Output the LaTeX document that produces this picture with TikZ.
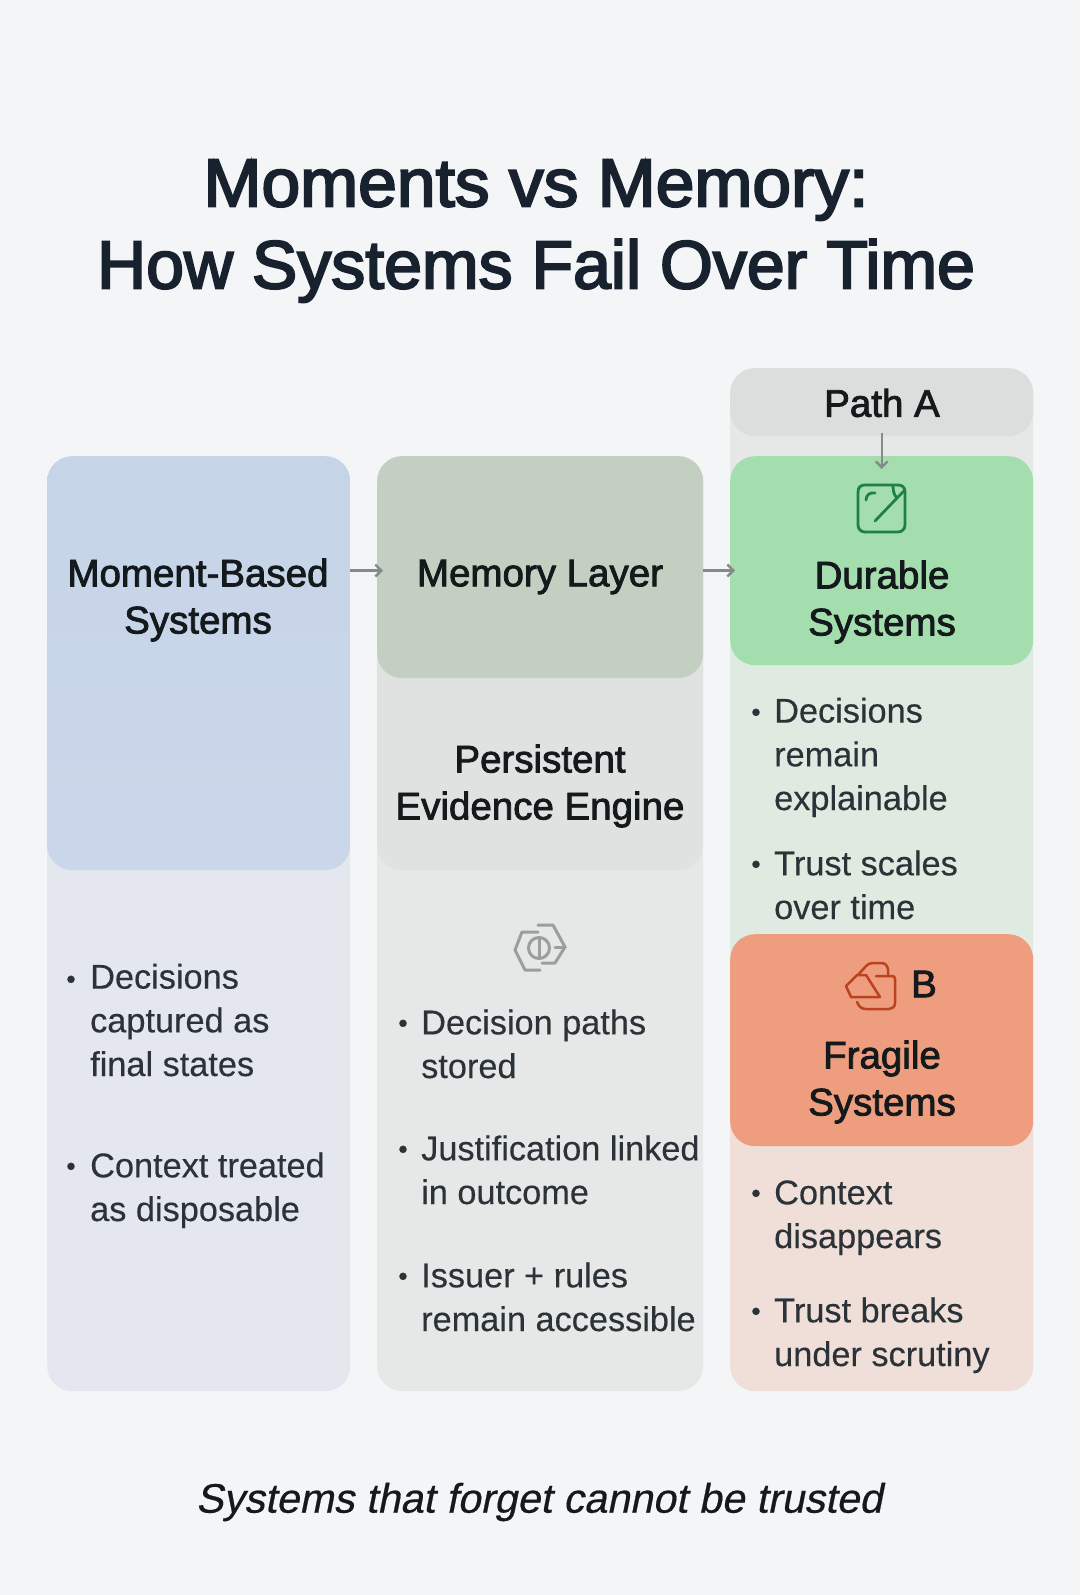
\documentclass[tikz,border=0pt]{standalone}
\usepackage{fontspec}
\setmainfont[FakeBold=0.3]{Liberation Sans}
\newfontfamily\medfont[FakeBold=2.2]{Liberation Sans}
\newfontfamily\titlefont[FakeBold=3]{Liberation Sans}
\newfontfamily\itfont[FakeSlant=0.2,FakeBold=0.5]{Liberation Sans}
\usetikzlibrary{arrows.meta,calc}
\definecolor{pagebg}{HTML}{F3F5F7}
\definecolor{titlec}{HTML}{18222E}
\definecolor{inkc}{HTML}{2B3338}
\definecolor{headc}{HTML}{14191C}
\definecolor{arrowc}{HTML}{85898A}
\definecolor{blueh}{HTML}{C6D4E8}
\definecolor{bluel}{HTML}{E4E7EE}
\definecolor{sageh}{HTML}{C3D0C1}
\definecolor{greym}{HTML}{DFE2E0}
\definecolor{greyl}{HTML}{E6E8E8}
\definecolor{pathback}{HTML}{E6E8E8}
\definecolor{pathc}{HTML}{DCDEDD}
\definecolor{greenh}{HTML}{A4DEAE}
\definecolor{greenl}{HTML}{DFEBE1}
\definecolor{redh}{HTML}{EE9D7F}
\definecolor{redl}{HTML}{F0DFD9}
\definecolor{greenic}{HTML}{1E7F47}
\definecolor{redic}{HTML}{B9431F}
\definecolor{hexic}{HTML}{9A9E9E}
\tikzset{
  panel/.style={rectangle,rounded corners=25pt,inner sep=0pt,anchor=north west},
  tint/.style={rectangle,inner sep=0pt,anchor=north west},
  titletext/.style={font=\fontsize{68}{82}\selectfont\titlefont,text=titlec,align=center,inner sep=0pt},
  headtext/.style={font=\fontsize{38.5}{47}\selectfont\medfont,text=headc,align=center,inner sep=0pt},
  bodytext/.style={font=\fontsize{34.3}{43.7}\selectfont,text=inkc,align=left,inner sep=0pt,anchor=base west},
  bullet/.style={font=\fontsize{27}{30}\selectfont,text=inkc,inner sep=0pt},
  flow/.style={draw=arrowc,line width=2.4pt,-{Straight Barb[length=6pt,width=12pt,line width=2.4pt]}},
  icongreen/.style={draw=greenic,line width=2.8pt,line cap=round,line join=round},
  iconred/.style={draw=redic,line width=2.5pt,line cap=round,line join=round},
  iconhex/.style={draw=hexic,line width=3pt,line cap=round,line join=round},
}
\begin{document}
\begin{tikzpicture}[x=1pt,y=-1pt]
\useasboundingbox (0,0) rectangle (1080,1595);
\fill[pagebg] (0,0) rectangle (1080,1595);

% column 1
\node[panel,fill=bluel,minimum width=303pt,minimum height=935pt] (col1) at (47,456) {};
\node[panel,top color=blueh,bottom color=blueh!92!white,minimum width=303pt,minimum height=414pt] (moment) at (47,456) {};

% column 2
\node[panel,fill=greyl,minimum width=326pt,minimum height=935pt] (col2) at (377,456) {};
\node[panel,fill=greym,minimum width=326pt,minimum height=414pt] (engine) at (377,456) {};
\node[panel,fill=sageh,minimum width=326pt,minimum height=222pt] (memory) at (377,456) {};

% column 3
\node[panel,fill=pathback,minimum width=303pt,minimum height=600pt] (col3) at (730,368) {};
\node[tint,fill=greenl,minimum width=303pt,minimum height=320pt] (greentint) at (730,640) {};
\node[panel,fill=redl,minimum width=303pt,minimum height=300pt] (redtint) at (730,1091) {};
\node[panel,fill=pathc,minimum width=303pt,minimum height=68pt] (patha) at (730,368) {};
\node[panel,fill=greenh,minimum width=303pt,minimum height=209pt] (durable) at (730,456) {};
\node[panel,fill=redh,minimum width=303pt,minimum height=212pt] (fragile) at (730,934) {};

% title and caption
\node[titletext] (title) at (536,231) {\scalebox{1.023}[1]{Moments vs Memory:}\\How Systems Fail Over Time};
\node[font=\fontsize{41.3}{48}\selectfont\itfont,text=headc,inner sep=0pt] (caption) at (539,1502) {Systems that forget cannot be trusted};

% headings
\node[headtext] (t1) at (198,600) {Moment-Based\\Systems};
\node[headtext] (t2) at (540,577) {Memory Layer};
\node[headtext] (t3) at (540,786) {Persistent\\Evidence Engine};
\node[headtext] (t4) at (882,602) {Durable\\Systems};
\node[headtext] (t5) at (882,1082) {Fragile\\Systems};
\node[headtext] (t6) at (882,403) {Path A};
\node[headtext] (t7) at (924,984) {B};

% column 1 text
\node[bullet] (b11) at (71,982) {•};
\node[bodytext] (x11) at (90,1076) {Decisions\\captured as\\final states};
\node[bullet] (b12) at (71,1169) {•};
\node[bodytext] (x12) at (90,1221) {Context treated\\as disposable};

% column 2 text
\node[bullet] (b21) at (403,1026) {•};
\node[bodytext] (x21) at (421,1078) {Decision paths\\stored};
\node[bullet] (b22) at (403,1152) {•};
\node[bodytext] (x22) at (421,1204) {Justification linked\\in outcome};
\node[bullet] (b23) at (403,1279) {•};
\node[bodytext] (x23) at (421,1331) {Issuer + rules\\remain accessible};

% column 3 text
\node[bullet] (b31) at (756,715) {•};
\node[bodytext] (x31) at (774,810) {Decisions\\remain\\explainable};
\node[bullet] (b32) at (756,867) {•};
\node[bodytext] (x32) at (774,919) {Trust scales\\over time};
\node[bullet] (b33) at (756,1196) {•};
\node[bodytext] (x33) at (774,1248) {Context\\disappears};
\node[bullet] (b34) at (756,1314) {•};
\node[bodytext] (x34) at (774,1366) {Trust breaks\\under scrutiny};

% connectors
\coordinate (row) at (0,570.5);
\draw[flow] (moment.east |- row) -- ([xshift=6pt]memory.west |- row);
\draw[flow] (memory.east |- row) -- ([xshift=5pt]durable.west |- row);
\draw[flow] ([yshift=3pt]patha.south) -- ([yshift=-13pt]durable.north);

% durable icon
\draw[icongreen] (858,492) .. controls (858,487) and (861,485) .. (865,485) -- (898,485)
  .. controls (902,485) and (905,487) .. (905,492) -- (905,525)
  .. controls (905,529) and (902,532) .. (898,532) -- (865,532)
  .. controls (861,532) and (858,529) .. (858,525) -- cycle;
\draw[icongreen] (875,521) -- (897,498) .. controls (894,495) and (893,491) .. (893,486);
\draw[icongreen] (897,498) -- (904,491);
\draw[icongreen] (866,500) .. controls (866,495) and (870,492) .. (875,493);

% fragile icon
\draw[iconred] (858,975) -- (866,966) .. controls (868,964) and (870,963) .. (873,963) -- (881,963)
  .. controls (885,963) and (887,965) .. (888,969) -- (888,975);
\draw[iconred] (876,976) -- (892,976) .. controls (894,976) and (895,977) .. (895,979) -- (895,1003)
  .. controls (895,1007) and (892,1009) .. (889,1009) -- (866,1009) .. controls (862,1009) and (859,1007) .. (857,1002);
\draw[iconred] (846,986) -- (857,975) -- (866,975) -- (880,997) -- (851,997) -- cycle;

% hexagon icon
\draw[iconhex] (538,932) -- (522,932) -- (515,950) -- (525,970) -- (540,970);
\draw[iconhex] (538,925) -- (553,925) -- (565,947) -- (555,963) -- (542,963);
\draw[iconhex] (555,947) -- (565,947);
\draw[iconhex] (539,948) circle (10.5pt);
\draw[iconhex] (539,938) -- (539,958);
\end{tikzpicture}
\end{document}
